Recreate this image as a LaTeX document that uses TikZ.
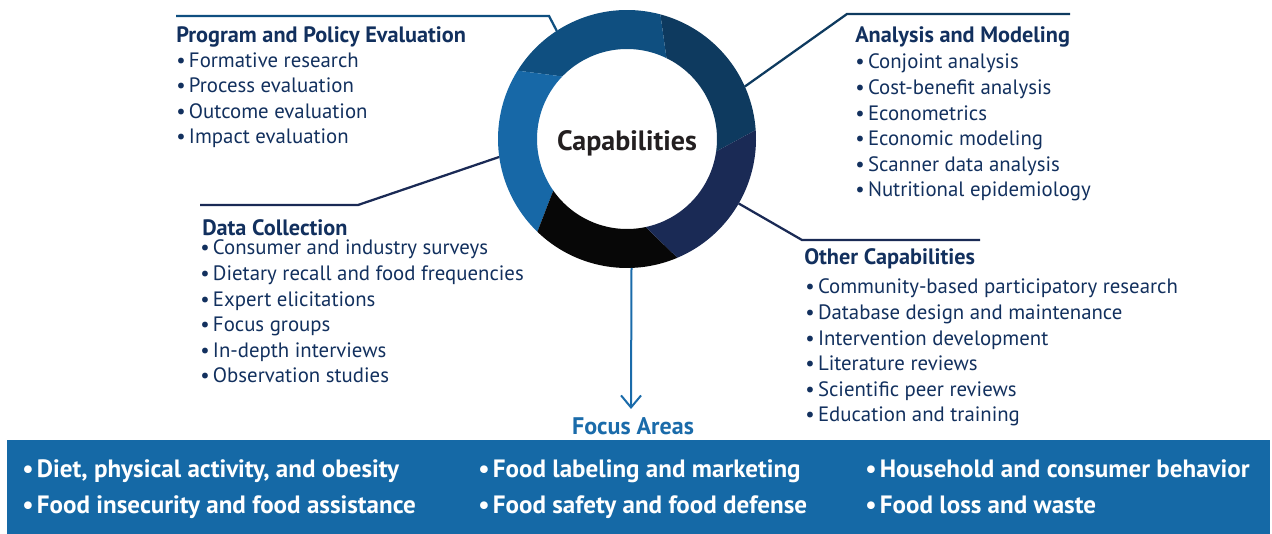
\documentclass[tikz,border=0pt]{standalone}
\usepackage{fontspec}
\setmainfont{PT Sans}
\usetikzlibrary{calc,positioning,arrows.meta}

\definecolor{navytext}{HTML}{12305E}
\definecolor{ringA}{HTML}{0E3A5F}
\definecolor{ringB}{HTML}{0F4F80}
\definecolor{ringC}{HTML}{1768A7}
\definecolor{ringD}{HTML}{070707}
\definecolor{ringE}{HTML}{1A2A55}
\definecolor{bannerblue}{HTML}{1569A6}
\definecolor{arrowblue}{HTML}{1A6BAA}
\definecolor{capgray}{HTML}{231F20}

% bullet with a narrow gap
\newcommand{\bul}{\textbullet\hspace{2.5pt}}
% one twisted piece of the ring: colour, outer from/to, inner from/to
\newcommand{\ringpart}[5]{%
  \fill[#1] ($(ctr)+(#2:129)$) arc[start angle=#2, end angle=#3, radius=129]
    -- ($(ctr)+(#5:90)$) arc[start angle=#5, end angle=#4, radius=90] -- cycle;}

\begin{document}
\begin{tikzpicture}[
        x=0.75pt, y=0.75pt,
        head/.style={anchor=base west, inner sep=0pt, text=navytext, font=\fontsize{16.7}{19.2}\selectfont\bfseries},
        items/.style={anchor=base west, inner sep=0pt, text=navytext, align=left, font=\fontsize{15.6}{19.2}\selectfont},
        focus/.style={anchor=base west, inner sep=0pt, text=white, font=\fontsize{18.8}{20}\selectfont\bfseries},
        link/.style={line width=1.7pt},
        arrow/.style={-{Straight Barb[length=9pt, width=15pt]}, line width=1.5pt, arrowblue}
    ]
        \useasboundingbox (0,0) rectangle (1272,-534);
        \coordinate (ctr) at (627,-139);

        % the ring
        \ringpart{ringA}{4}{75}{-8}{64}
        \ringpart{ringB}{75}{148}{64}{136}
        \ringpart{ringC}{148}{226}{136}{215}
        \ringpart{ringD}{226}{293}{215}{282}
        \ringpart{ringE}{293}{364}{282}{352}
        \node[text=capgray, font=\fontsize{21}{24}\selectfont\bfseries] (cap) at (627,-143) {Capabilities};

        % capability groups (lists sit on the baseline of their last line)
        \node[head] (progtitle) at (176,-43) {Program and Policy Evaluation};
        \node[items] (proglist) at (176,-144) {\bul Formative research\\\bul Process evaluation\\\bul Outcome evaluation\\\bul Impact evaluation};

        \node[head] (anatitle) at (855,-43) {Analysis and Modeling};
        \node[items] (analist) at (855,-197) {\bul Conjoint analysis\\\bul Cost-benefit analysis\\\bul Econometrics\\\bul Economic modeling\\\bul Scanner data analysis\\\bul Nutritional epidemiology};

        \node[head] (datatitle) at (202,-236) {Data Collection};
        \node[items] (datalist) at (200,-383) {\bul Consumer and industry surveys\\\bul Dietary recall and food frequencies\\\bul Expert elicitations\\\bul Focus groups\\\bul In-depth interviews\\\bul Observation studies};

        \node[head] (othertitle) at (804,-265) {Other Capabilities};
        \node[items] (otherlist) at (805,-422) {\bul Community-based participatory research\\\bul Database design and maintenance\\\bul Intervention development\\\bul Literature reviews\\\bul Scientific peer reviews\\\bul Education and training};

        % leader lines
        \coordinate (progend) at (176,-16);
        \coordinate (anaend) at (1070,-14);
        \coordinate (dataend) at (200,-205);
        \coordinate (otherend) at (980,-240);
        \draw[link, ringB] ($(ctr)+(123:129)$) -- (549,-16) -- (progend);
        \draw[link, ringA] ($(ctr)+(24:129)$) -- (847,-14) -- (anaend);
        \draw[link, ringE] ($(ctr)+(188:129)$) -- (358,-205) -- (dataend);
        \draw[link, ringE] ($(ctr)+(-30:129)$) -- (802,-240) -- (otherend);

        % focus areas
        \coordinate (arrowtip) at (631,-409);
        \draw[arrow] ($(ctr)+(-88:129)$) -- (arrowtip);
        \node[anchor=base, inner sep=0pt, text=arrowblue, font=\fontsize{18}{20}\selectfont\bfseries] (focustitle) at (633,-435) {Focus Areas};
        \fill[bannerblue] (7,-440) rectangle (1270,-534);
        \node[focus] (diet) at (22,-478) {\bul Diet, physical activity, and obesity};
        \node[focus] (insecure) at (22,-514) {\bul Food insecurity and food assistance};
        \node[focus] (label) at (478,-478) {\bul Food labeling and marketing};
        \node[focus] (safety) at (478,-514) {\bul Food safety and food defense};
        \node[focus] (house) at (865,-478) {\bul Household and consumer behavior};
        \node[focus] (waste) at (865,-514) {\bul Food loss and waste};
    \end{tikzpicture}
\end{document}
